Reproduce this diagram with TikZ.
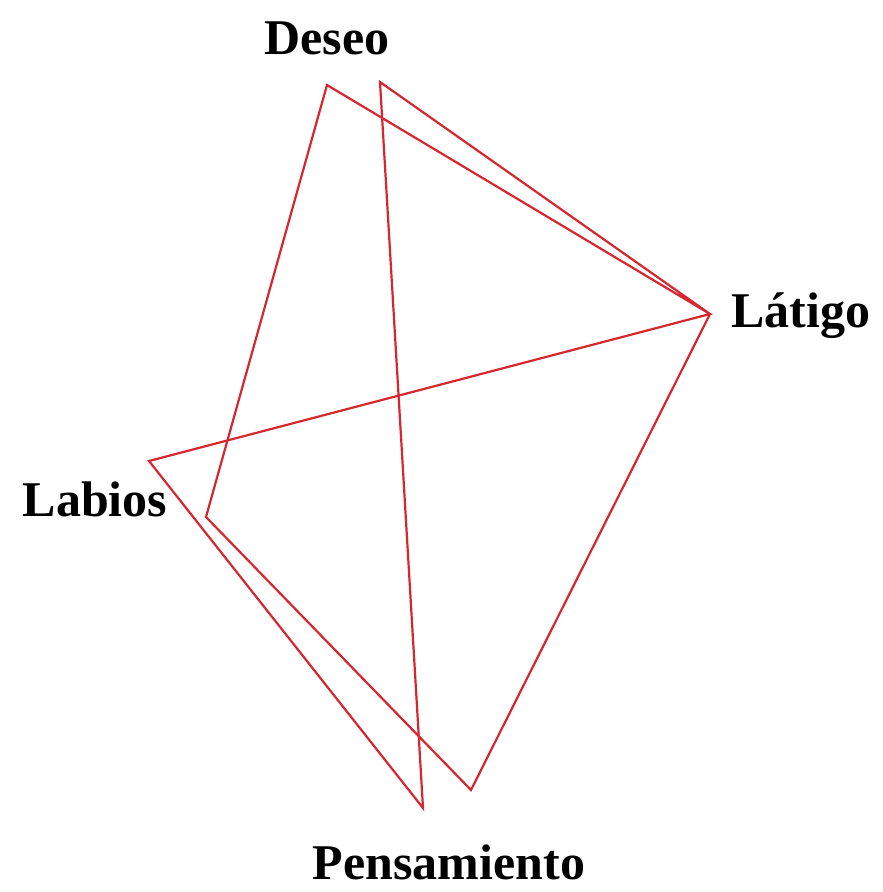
\documentclass[tikz,border=0pt]{standalone}
\usepackage{fontspec}
\setmainfont{Liberation Serif}
\definecolor{lred}{RGB}{214,38,48}
\begin{document}
\begin{tikzpicture}[x=1pt,y=-1pt,
  lbl/.style={font=\fontsize{50}{56}\selectfont\bfseries, inner sep=0pt, anchor=center},
  edge/.style={draw=lred, line width=2.2pt, line join=miter}]
\useasboundingbox (0,0) rectangle (883,892);
\coordinate (d1) at (327,85);
\coordinate (d2) at (380,82);
\coordinate (l) at (710,314);
\coordinate (lb) at (149,461);
\coordinate (lb2) at (206,517);
\coordinate (p1) at (423,808);
\coordinate (p2) at (471,790);
\draw[edge] (d1) -- (l) -- (lb) -- (p1) -- (d2) -- (l) -- (p2) -- (lb2) -- cycle;
\node[lbl] (tdeseo) at (327,38) {Deseo};
\node[lbl] (tlatigo) at (801,316) {Látigo};
\node[lbl] (tlabios) at (95,499) {Labios};
\node[lbl] (tpens) at (449,862) {Pensamiento};
\end{tikzpicture}
\end{document}
